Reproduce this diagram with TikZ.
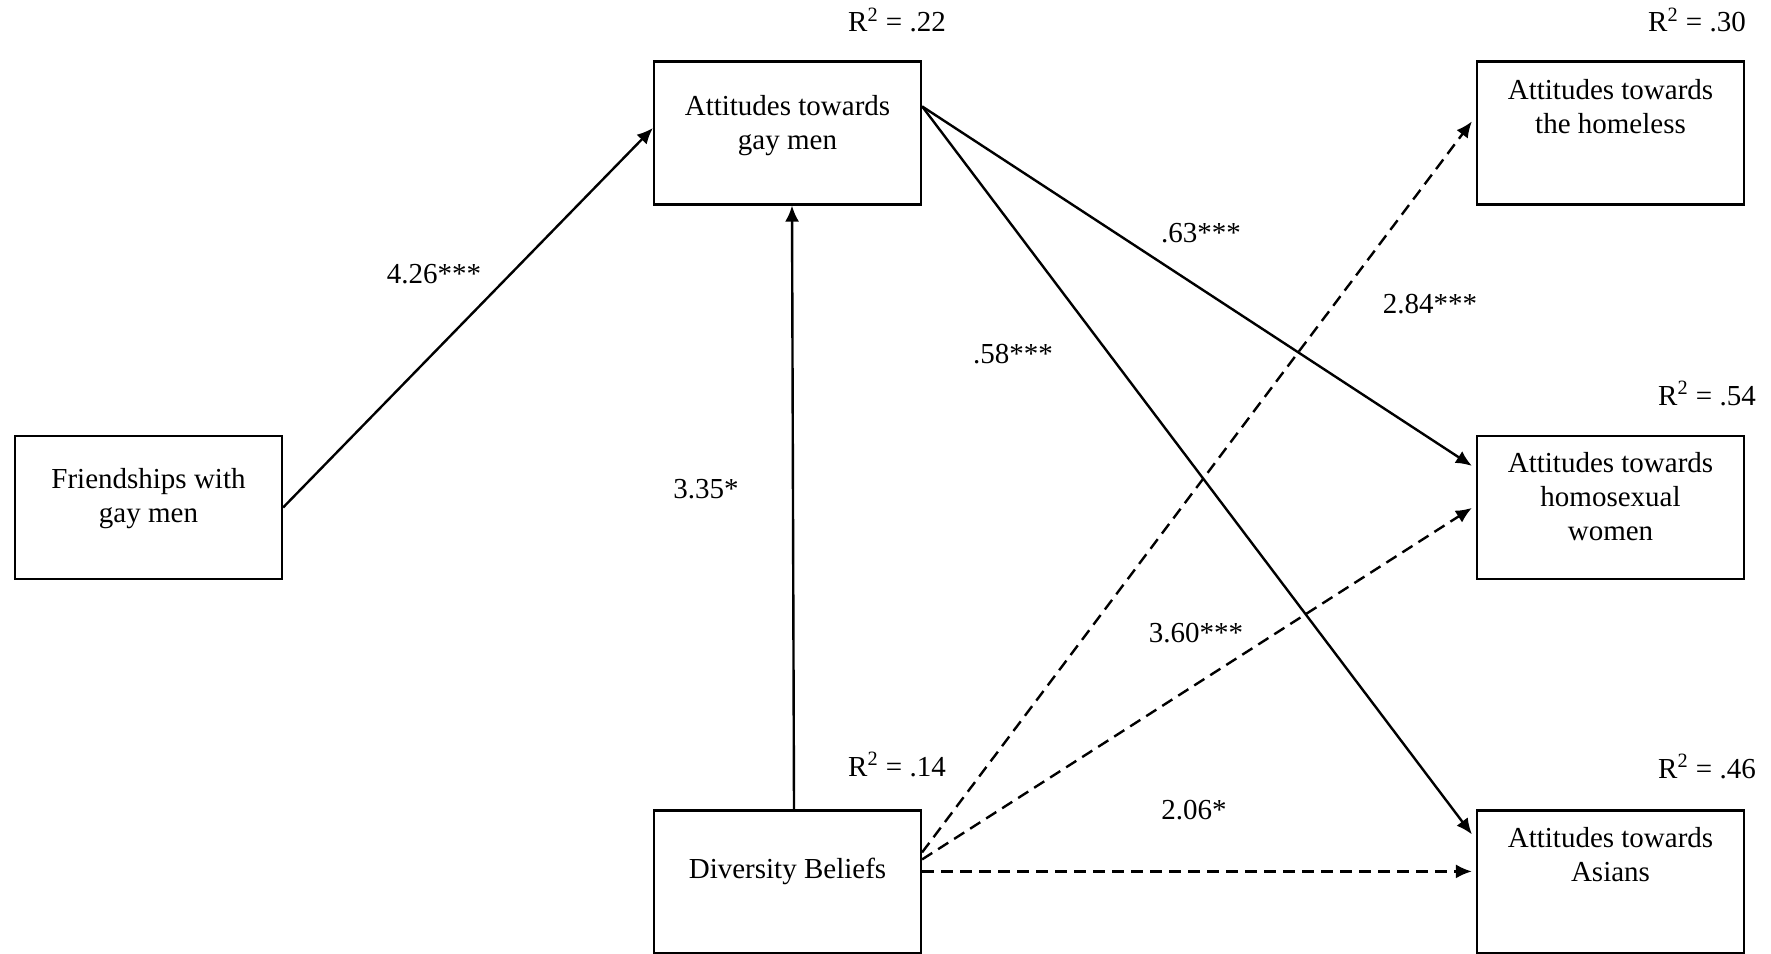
\documentclass[tikz,border=0pt]{standalone}
\usepackage{fontspec}
\setmainfont{Liberation Serif}
\usetikzlibrary{arrows.meta,calc}
\tikzset{
  every picture/.style={x=0.5pt,y=-0.5pt},
  box/.style={draw,line width=1.1pt,minimum width=133.5pt,minimum height=71.5pt,inner sep=0pt},
  boxtext/.style={anchor=north,align=center,inner sep=0pt,font=\fontsize{14.5}{16.9}\selectfont},
  coef/.style={inner sep=0pt,font=\fontsize{14.5}{16.9}\selectfont},
  rsq/.style={anchor=base,inner sep=0pt,font=\fontsize{14.5}{16.9}\selectfont},
  path/.style={line width=1.2pt,-{Latex[length=8pt,width=7pt]}},
  dpath/.style={path,dash pattern=on 6pt off 3.5pt}
}
\begin{document}
\begin{tikzpicture}
\useasboundingbox (0,0) rectangle (1771,953);

% boxes
\node[box] (fr) at (148.5,507.5) {};
\node[box] (gm) at (787.5,133) {};
\node[box] (db) at (787.5,882) {};
\node[box] (hl) at (1610.5,133) {};
\node[box] (hw) at (1610.5,507.5) {};
\node[box] (as) at (1610.5,882) {};

% box labels
\node[boxtext] (frt) at (148.5,468) {Friendships with\\gay men};
\node[boxtext] (gmt) at (787.5,95) {Attitudes towards\\gay men};
\node[boxtext] (dbt) at (787.5,858) {Diversity Beliefs};
\node[boxtext] (hlt) at (1610.5,79) {Attitudes towards\\the homeless};
\node[boxtext] (hwt) at (1610.5,452) {Attitudes towards\\homosexual\\women};
\node[boxtext] (ast) at (1610.5,827) {Attitudes towards\\Asians};

% explained variance
\node[rsq] (r1) at (897,32) {R\textsuperscript{2} = .22};
\node[rsq] (r2) at (897,776) {R\textsuperscript{2} = .14};
\node[rsq] (r3) at (1697,32) {R\textsuperscript{2} = .30};
\node[rsq] (r4) at (1707,405) {R\textsuperscript{2} = .54};
\node[rsq] (r5) at (1707,778) {R\textsuperscript{2} = .46};

% attachment points on the box borders
\coordinate (gmout) at ($(gm.north east)+(0,46)$);
\coordinate (dbo1) at ($(db.north east)+(0,43)$);
\coordinate (dbo2) at ($(db.north east)+(0,50)$);
\coordinate (dbo3) at ($(db.north east)+(0,62)$);

% solid paths
\draw[path] (fr.east) -- ($(gm.west)+(0,-5)$);
\draw[path] ($(db.north)+(6.5,0)$) -- ($(gm.south)+(4.5,0)$);
\draw[path] (gmout) -- ($(hw.north west)+(-4,31)$);
\draw[path] (gmout) -- ($(as.north west)+(-4,25)$);

% dashed paths
\draw[dpath] (dbo1) -- ($(hl.north west)+(-4,61)$);
\draw[dpath] (dbo2) -- ($(hw.north west)+(-4,73)$);
\draw[dpath] (dbo3) -- ($(as.north west)+(-4,62)$);

% coefficients
\node[coef] (c1) at (434,274) {4.26***};
\node[coef] (c2) at (706,489) {3.35*};
\node[coef] (c3) at (1201,233) {.63***};
\node[coef] (c4) at (1013,354) {.58***};
\node[coef] (c5) at (1430,304) {2.84***};
\node[coef] (c6) at (1196,633) {3.60***};
\node[coef] (c7) at (1194,810) {2.06*};
\end{tikzpicture}
\end{document}
